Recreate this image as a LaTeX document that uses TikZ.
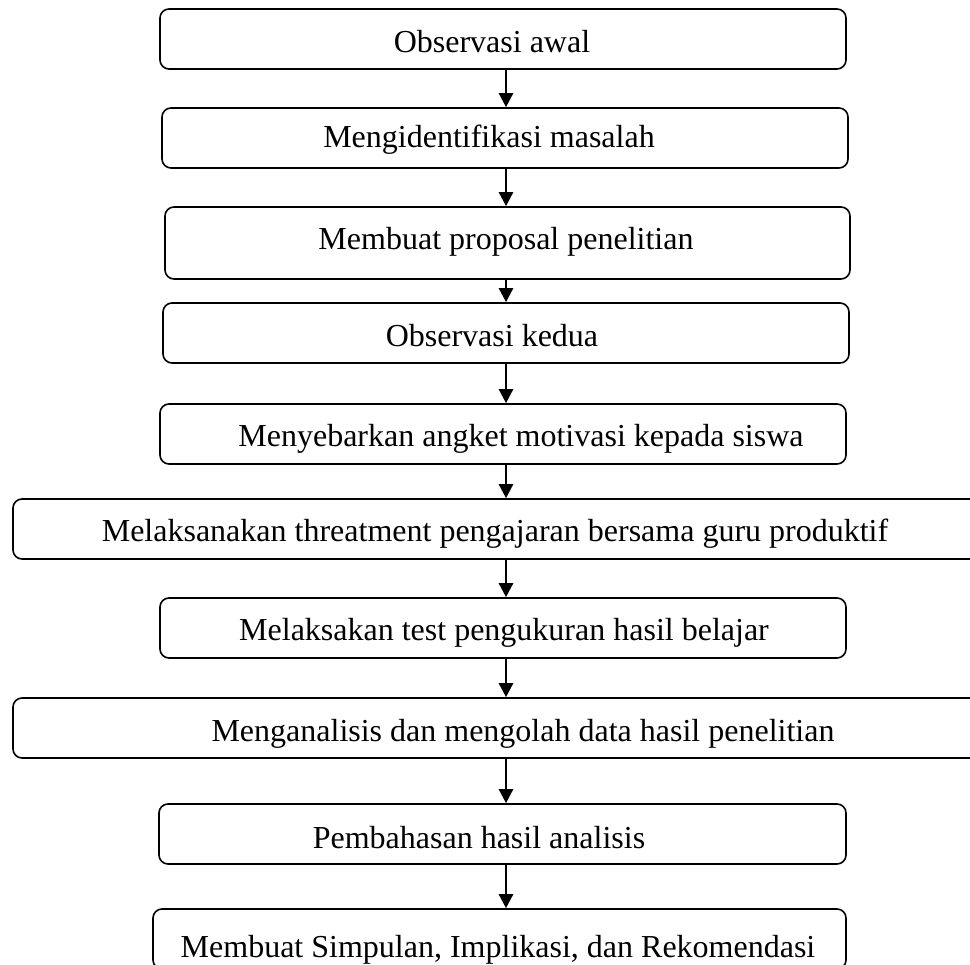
\documentclass[tikz,border=0pt]{standalone}
\usepackage{fontspec}
\setmainfont{Liberation Serif}
\usepackage{tikz}
\usetikzlibrary{shapes,positioning,arrows.meta}
\tikzset{kotak/.style={rectangle,draw,rounded corners=9pt,line width=1.6pt,minimum height=60pt,inner sep=0pt},
tulis/.style={anchor=base,inner sep=0pt,font=\fontsize{32}{38}\selectfont},
panah/.style={line width=2.5pt,-{Triangle[length=14pt,width=14pt]}}}

\begin{document}
\begin{tikzpicture}[x=1pt,y=-1pt]
        \clip (0,0) rectangle (970,965);
        \useasboundingbox (0,0) rectangle (970,965);
        \coordinate (ax) at (506,0);

        \node[kotak,minimum width=686pt] (a)at (503,39) {};
        \node[kotak,minimum width=686pt] (b)at (505,138) {};
        \node[kotak,minimum width=685pt,minimum height=72pt] (c)at (507.5,243) {};
        \node[kotak,minimum width=686pt] (d)at (506,333) {};
        \node[kotak,minimum width=686pt] (e)at (503,434) {};
        \node[kotak,minimum width=986pt] (f)at (506,529) {};
        \node[kotak,minimum width=686pt] (g)at (503,628) {};
        \node[kotak,minimum width=986pt] (h)at (506,728) {};
        \node[kotak,minimum width=687pt] (i)at (502.5,834) {};
        \node[kotak,minimum width=693pt] (j)at (499.5,939) {};

        \node[tulis] (ta)at (492,53) {Observasi awal};
        \node[tulis] (tb)at (489,148) {Mengidentifikasi masalah};
        \node[tulis] (tc)at (506,250) {Membuat proposal penelitian};
        \node[tulis] (td)at (492,347) {Observasi kedua};
        \node[tulis] (te)at (521,447) {Menyebarkan angket motivasi kepada siswa};
        \node[tulis] (tf)at (495,542) {Melaksanakan threatment pengajaran bersama guru produktif};
        \node[tulis] (tg)at (504,640) {Melaksakan test pengukuran hasil belajar};
        \node[tulis] (th)at (523,741) {Menganalisis dan mengolah data hasil penelitian};
        \node[tulis] (ti)at (479,848) {Pembahasan hasil analisis};
        \node[tulis] (tj)at (498,957) {Membuat Simpulan, Implikasi, dan Rekomendasi};

        \draw [panah] (a.south -| ax) to [] (b.north -| ax);
        \draw [panah] (b.south -| ax) to [] (c.north -| ax);
        \draw [panah] (c.south -| ax) to [] (d.north -| ax);
        \draw [panah] (d.south -| ax) to [] (e.north -| ax);
        \draw [panah] (e.south -| ax) to [] (f.north -| ax);
        \draw [panah] (f.south -| ax) to [] (g.north -| ax);
        \draw [panah] (g.south -| ax) to [] (h.north -| ax);
        \draw [panah] (h.south -| ax) to [] (i.north -| ax);
        \draw [panah] (i.south -| ax) to [] (j.north -| ax);
    \end{tikzpicture}
\end{document}
